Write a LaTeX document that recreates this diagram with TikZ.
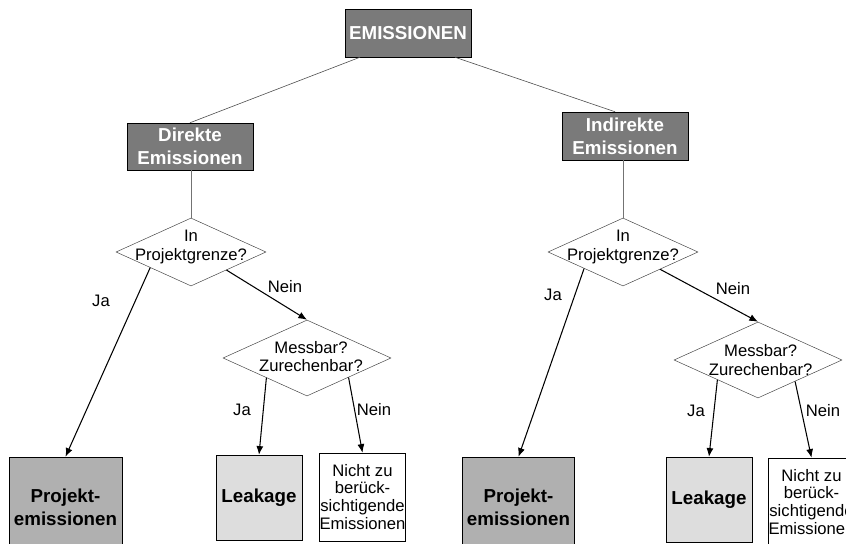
\documentclass[tikz,border=0pt]{standalone}
\usepackage{fontspec}
\setmainfont{Liberation Sans}
\usetikzlibrary{shapes.geometric,arrows.meta,calc}
\definecolor{boxdark}{HTML}{7A7A7A}
\definecolor{boxmid}{HTML}{B0B0B0}
\definecolor{boxlight}{HTML}{DDDDDD}

\begin{document}
\begin{tikzpicture}[>={Latex[length=2.6mm,width=2.1mm]},x=0.03cm,y=-0.03cm,
  head/.style={draw=black,fill=boxdark,text=white,font=\bfseries\fontsize{16}{19.6}\selectfont,align=center,inner sep=0pt,minimum width=3.78cm,minimum height=1.44cm},
  ask/.style={draw=black!75,shape=diamond,inner sep=0pt,minimum width=5.04cm,minimum height=2.28cm},
  asktxt/.style={font=\fontsize{14.2}{15.6}\selectfont,align=center,inner sep=0pt},
  res/.style={draw=black,inner sep=0pt,align=center,font=\bfseries\fontsize{16}{19.6}\selectfont},
  rest/.style={draw=black,fill=white,inner sep=0pt,align=center,font=\fontsize{14.2}{15.3}\selectfont,minimum width=2.55cm,minimum height=2.64cm},
  yes/.style={->,line width=0.9pt},
  lbl/.style={font=\fontsize{14.2}{15.6}\selectfont,inner sep=0pt}]
  \clip (0,0) rectangle (846,544);
  \fill[white] (0,0) rectangle (846,544);
  % Kopf und erste Ebene
  \node[head] (em) at (408,33) {EMISSIONEN};
  \node[head,minimum height=1.41cm] (dir) at (190,146.5) {Direkte\\Emissionen};
  \node[head] (ind) at (625,136) {Indirekte\\Emissionen};
  \draw[black!70,line width=0.5pt] ($(em.south)+(-48,0)$) -- (dir.north);
  \draw[black!70,line width=0.5pt] ($(em.south)+(47,0)$) -- ($(ind.north)+(-10,0)$);
  % Abfragen
  \node[ask,minimum width=4.5cm,minimum height=2.04cm,label={[asktxt,yshift=0.15cm]center:{In\\Projektgrenze?}}] (d1) at (191,252) {};
  \node[ask,minimum width=4.5cm,minimum height=2.04cm,label={[asktxt,yshift=0.15cm]center:{In\\Projektgrenze?}}] (d2) at (623,252) {};
  \node[ask,label={[asktxt,xshift=0.12cm,yshift=0.05cm]center:{Messbar?\\Zurechenbar?}}] (m1) at (307,358) {};
  \node[ask,label={[asktxt,xshift=0.08cm]center:{Messbar?\\Zurechenbar?}}] (m2) at (758,360) {};
  \draw[black!55,line width=0.5pt] (d1.north |- dir.south) -- (d1.north);
  \draw[black!55,line width=0.5pt] (d2.north |- ind.south) -- (d2.north);
  % Ergebnisse
  \node[res,fill=boxmid,minimum width=3.39cm,minimum height=3cm] (p1) at (65.5,507) {Projekt-\\emissionen};
  \node[res,fill=boxlight,minimum width=2.58cm,minimum height=2.55cm] (l1) at (259,497.5) {Leakage};
  \node[rest] (n1) at (362.5,497) {Nicht zu\\berück-\\sichtigende\\Emissionen};
  \node[res,fill=boxmid,minimum width=3.36cm,minimum height=3cm] (p2) at (518.5,507) {Projekt-\\emissionen};
  \node[res,fill=boxlight,minimum width=2.58cm,minimum height=2.55cm] (l2) at (709,499.5) {Leakage};
  \node[rest] (n2) at (811.5,502) {Nicht zu\\berück-\\sichtigende\\Emissionen};
  % Pfeile
  \draw[yes] (d1.201) -- (p1.north); \draw[yes] (d1.333) -- (m1.north);
  \draw[yes] (m1.206) -- (l1.north); \draw[yes] (m1.335) -- (n1.north);
  \draw[yes] (d2.203) -- (p2.north); \draw[yes] (d2.335) -- (m2.north);
  \draw[yes] (m2.206) -- (l2.north); \draw[yes] (m2.330) -- (n2.north);
  \node[lbl] (ja1) at (101,301) {Ja}; \node[lbl] (nein1) at (285,287) {Nein};
  \node[lbl] (ja2) at (242,410) {Ja}; \node[lbl] (nein2) at (374,410) {Nein};
  \node[lbl] (ja3) at (553,295) {Ja}; \node[lbl] (nein3) at (733,289) {Nein};
  \node[lbl] (ja4) at (696,411) {Ja}; \node[lbl] (nein4) at (823,411) {Nein};
\end{tikzpicture}
\end{document}
